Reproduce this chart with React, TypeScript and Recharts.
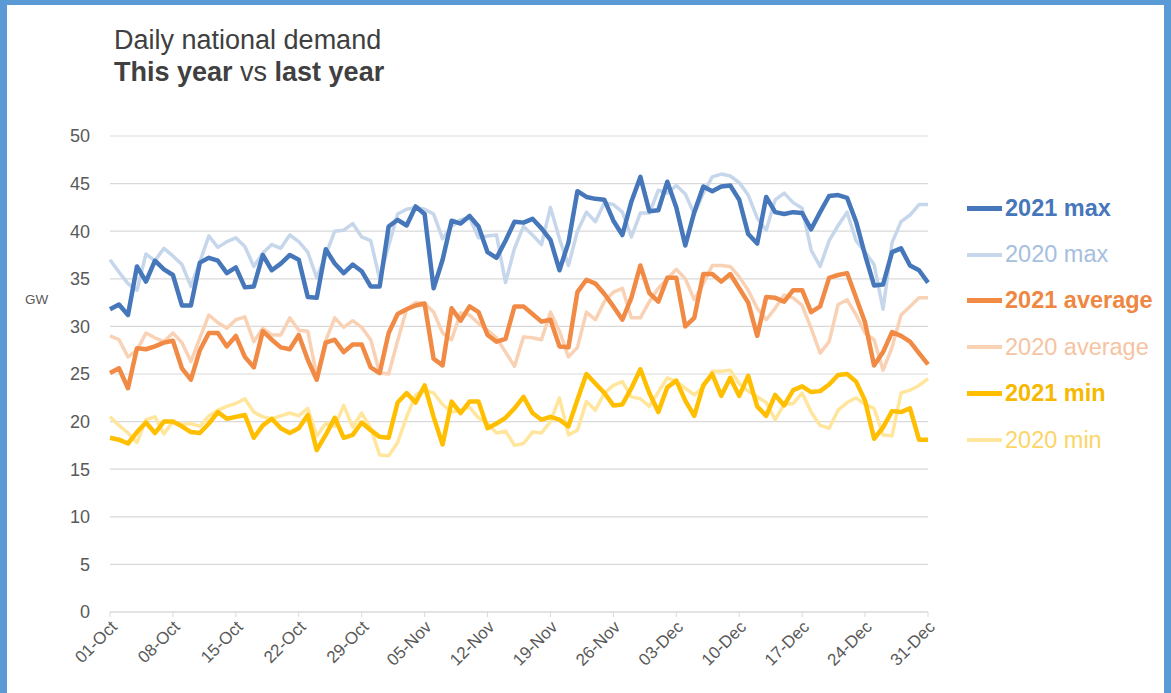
import React from 'react';
import { LineChart, Line, XAxis, YAxis, CartesianGrid, Legend } from 'recharts';

const FONT = '"Liberation Sans", Arial, sans-serif';

// category labels: every day from 01-Oct to 31-Dec
const months: [string, number][] = [['Oct', 31], ['Nov', 30], ['Dec', 31]];
const days = months.flatMap(([m, n]) =>
    Array.from({ length: n }, (_, i) => `${String(i + 1).padStart(2, '0')}-${m}`)
);

const yTicks = [0, 5, 10, 15, 20, 25, 30, 35, 40, 45, 50];

const max2021 = [31.8, 32.3, 31.2, 36.3, 34.7, 36.9, 36.0, 35.4, 32.2, 32.2, 36.7, 37.2, 36.9, 35.6, 36.2, 34.1, 34.2, 37.5, 35.9, 36.6, 37.5, 37.0, 33.1, 33.0, 38.1, 36.6, 35.6, 36.5, 35.8, 34.2, 34.2, 40.5, 41.2, 40.6, 42.6, 41.8, 34.0, 37.0, 41.1, 40.8, 41.6, 40.5, 37.8, 37.2, 39.0, 41.0, 40.9, 41.3, 40.3, 39.1, 35.9, 38.8, 44.2, 43.6, 43.4, 43.3, 41.1, 39.6, 43.1, 45.7, 42.1, 42.2, 45.2, 42.5, 38.5, 42.0, 44.7, 44.2, 44.7, 44.8, 43.3, 39.7, 38.7, 43.6, 42.0, 41.8, 42.0, 41.9, 40.2, 42.0, 43.7, 43.8, 43.5, 41.0, 37.5, 34.3, 34.4, 37.8, 38.2, 36.4, 35.9, 34.6];
const max2020 = [37.0, 35.7, 34.5, 33.8, 37.6, 36.9, 38.2, 37.4, 36.5, 34.2, 36.8, 39.5, 38.3, 38.9, 39.3, 38.4, 36.3, 37.7, 38.6, 38.2, 39.6, 38.9, 37.8, 35.1, 37.5, 40.0, 40.1, 40.8, 39.4, 39.0, 35.0, 38.5, 41.8, 42.3, 42.5, 42.3, 41.8, 39.2, 40.5, 41.2, 41.4, 39.3, 39.5, 39.6, 34.6, 38.2, 40.5, 39.6, 38.6, 42.5, 39.2, 36.4, 40.0, 42.0, 41.0, 43.0, 42.8, 42.0, 39.4, 41.9, 41.9, 44.3, 44.0, 44.8, 43.9, 41.8, 44.0, 45.7, 46.0, 45.8, 45.1, 43.8, 41.4, 40.1, 43.3, 44.0, 43.0, 42.4, 38.0, 36.3, 39.0, 40.6, 42.0, 39.0, 37.8, 36.5, 31.8, 38.8, 41.0, 41.7, 42.8, 42.8];
const avg2021 = [25.1, 25.6, 23.5, 27.7, 27.6, 27.9, 28.3, 28.5, 25.6, 24.4, 27.5, 29.3, 29.3, 27.9, 29.0, 26.8, 25.7, 29.5, 28.6, 27.8, 27.6, 29.1, 26.5, 24.4, 28.3, 28.6, 27.3, 28.1, 28.1, 25.7, 25.1, 29.3, 31.3, 31.8, 32.2, 32.4, 26.6, 25.9, 31.9, 30.6, 32.1, 31.5, 29.1, 28.4, 28.7, 32.1, 32.1, 31.3, 30.5, 30.7, 27.9, 27.8, 33.6, 34.9, 34.5, 33.4, 32.1, 30.7, 33.0, 36.4, 33.5, 32.6, 35.1, 35.1, 30.0, 30.9, 35.5, 35.5, 34.7, 35.5, 34.0, 32.5, 29.0, 33.1, 33.0, 32.6, 33.8, 33.8, 31.5, 32.1, 35.1, 35.4, 35.6, 33.0, 30.4, 25.9, 27.3, 29.4, 29.0, 28.4, 27.2, 26.0];
const avg2020 = [29.0, 28.6, 26.8, 27.5, 29.3, 28.8, 28.4, 29.3, 28.3, 26.3, 28.8, 31.2, 30.4, 29.8, 30.7, 31.0, 28.4, 29.8, 29.1, 29.1, 30.9, 29.6, 29.5, 24.8, 28.5, 30.9, 29.9, 30.6, 29.9, 28.6, 25.1, 25.0, 28.5, 31.8, 32.5, 32.4, 31.5, 29.3, 28.6, 31.4, 31.2, 30.3, 29.6, 28.8, 27.3, 25.8, 28.9, 28.8, 28.6, 31.5, 29.5, 26.8, 27.8, 31.5, 30.7, 32.6, 33.6, 34.0, 30.9, 30.9, 32.6, 34.0, 35.0, 36.0, 35.0, 32.8, 34.5, 36.4, 36.4, 36.3, 35.2, 33.8, 31.9, 30.7, 31.9, 33.3, 33.0, 32.2, 29.8, 27.2, 28.4, 32.3, 32.8, 31.2, 29.3, 28.6, 25.4, 27.8, 31.2, 32.1, 33.0, 33.0];
const min2021 = [18.3, 18.1, 17.7, 18.9, 19.9, 18.8, 20.0, 20.0, 19.5, 18.9, 18.8, 19.8, 21.0, 20.3, 20.5, 20.7, 18.3, 19.6, 20.3, 19.3, 18.8, 19.3, 20.7, 17.0, 18.6, 20.4, 18.3, 18.6, 19.9, 19.1, 18.4, 18.3, 22.0, 23.0, 22.0, 23.8, 20.5, 17.6, 22.1, 20.9, 22.1, 22.1, 19.3, 19.8, 20.4, 21.4, 22.6, 20.9, 20.2, 20.5, 20.2, 19.5, 22.3, 25.0, 24.0, 23.0, 21.7, 21.8, 23.5, 25.5, 23.0, 21.0, 23.6, 24.3, 22.2, 20.6, 23.8, 25.0, 22.7, 24.6, 22.7, 24.8, 21.6, 20.6, 22.8, 21.7, 23.3, 23.7, 23.1, 23.2, 23.9, 24.9, 25.0, 24.2, 22.2, 18.2, 19.4, 21.1, 21.0, 21.4, 18.1, 18.1];
const min2020 = [20.5, 19.6, 18.8, 17.8, 20.2, 20.5, 18.7, 20.0, 19.7, 19.8, 19.5, 20.6, 21.2, 21.6, 21.9, 22.4, 21.0, 20.5, 20.3, 20.6, 20.9, 20.6, 21.4, 18.5, 19.8, 19.5, 21.7, 19.4, 20.9, 19.3, 16.5, 16.4, 17.8, 20.5, 22.8, 23.3, 23.0, 21.8, 21.0, 21.2, 21.5, 20.4, 19.8, 18.8, 19.0, 17.5, 17.7, 18.9, 18.8, 20.0, 22.5, 18.6, 19.1, 22.1, 21.2, 23.0, 23.8, 24.2, 22.6, 22.4, 21.6, 23.1, 24.6, 24.2, 23.5, 22.8, 23.6, 25.3, 25.3, 25.4, 24.0, 23.2, 22.6, 22.0, 20.2, 21.8, 21.9, 23.0, 21.0, 19.6, 19.3, 21.2, 22.0, 22.5, 21.8, 21.4, 18.6, 18.5, 23.0, 23.3, 23.8, 24.5];

const data = days.map((day, i) => ({
    day,
    max2021: max2021[i],
    max2020: max2020[i],
    avg2021: avg2021[i],
    avg2020: avg2020[i],
    min2021: min2021[i],
    min2020: min2020[i],
}));

// drawing order: last year underneath, this year on top
const series = [
    { key: 'min2020', name: '2020 min', color: '#ffe69c', text: '#fbd567', width: 3.5, bold: false },
    { key: 'avg2020', name: '2020 average', color: '#f9d1b5', text: '#f5c4a2', width: 3.5, bold: false },
    { key: 'max2020', name: '2020 max', color: '#c6d6eb', text: '#a6bee0', width: 3.5, bold: false },
    { key: 'min2021', name: '2021 min', color: '#ffbf00', text: '#f6b800', width: 4.5, bold: true },
    { key: 'avg2021', name: '2021 average', color: '#f08a45', text: '#ee8742', width: 4.5, bold: true },
    { key: 'max2021', name: '2021 max', color: '#4677ba', text: '#4677ba', width: 4.5, bold: true },
];

const legendOrder = ['max2021', 'max2020', 'avg2021', 'avg2020', 'min2021', 'min2020'];

const XTick = ({ x, y, payload }: any) => (
    <g transform={`translate(${x + 8},${y + 9})`}>
        <text textAnchor="end" transform="rotate(-45)" fill="#595959" fontSize={17} fontFamily={FONT}>
            {payload.value}
        </text>
    </g>
);

const LegendBox = ({ payload }: any) => {
    const items = legendOrder
        .map((k) => (payload || []).find((p: any) => p.dataKey === k))
        .filter(Boolean);
    return (
        <div>
            {items.map((p: any) => {
                const s = series.find((d) => d.key === p.dataKey)!;
                return (
                    <div key={s.key} style={{ height: 46.4, display: 'flex', alignItems: 'center' }}>
                        <div style={{ width: 35, height: s.bold ? 5 : 4, background: s.color, marginLeft: 5 }} />
                        <span style={{ marginLeft: 3, fontSize: 23.5, fontWeight: s.bold ? 'bold' : 'normal', color: s.text, fontFamily: FONT, whiteSpace: 'nowrap' }}>
                            {p.value}
                        </span>
                    </div>
                );
            })}
        </div>
    );
};

export default function App() {
    return (
        <div style={{ position: 'absolute', top: 0, left: 0, width: 1171, height: 693, background: '#5b9bd5', fontFamily: FONT }}>
            <div style={{ position: 'absolute', left: 7, top: 5, width: 1157, height: 688, background: '#fff' }} />
            <div style={{ position: 'absolute', left: 114, top: 24, fontSize: 27, lineHeight: '32px', color: '#404040' }}>
                <div>Daily national demand</div>
                <div><b>This year</b> vs <b>last year</b></div>
            </div>
            <div style={{ position: 'absolute', left: 25, top: 292, fontSize: 13.5, color: '#595959' }}>GW</div>
            <div style={{ position: 'absolute', left: 0, top: 0 }}>
                <LineChart width={1171} height={693} data={data} margin={{ top: 136, right: 243, bottom: 0, left: 0 }}>
                    <CartesianGrid vertical={false} stroke="#d9d9d9" strokeWidth={1.2} />
                    <XAxis
                        dataKey="day"
                        interval={6}
                        height={81}
                        stroke="#d9d9d9"
                        tickSize={5}
                        tick={<XTick />}
                    />
                    <YAxis
                        domain={[0, 50]}
                        ticks={yTicks}
                        width={110}
                        axisLine={false}
                        tickLine={false}
                        tickSize={0}
                        tickMargin={20}
                        tick={{ fill: '#595959', fontSize: 18, fontFamily: FONT }}
                    />
                    <Legend
                        layout="vertical"
                        align="center"
                        verticalAlign="middle"
                        wrapperStyle={{ left: 962, top: 185, width: 209 }}
                        content={<LegendBox />}
                    />
                    {series.map((s) => (
                        <Line
                            key={s.key}
                            type="linear"
                            dataKey={s.key}
                            name={s.name}
                            stroke={s.color}
                            strokeWidth={s.width}
                            strokeLinejoin="round"
                            dot={false}
                            isAnimationActive={false}
                        />
                    ))}
                </LineChart>
            </div>
        </div>
    );
}
